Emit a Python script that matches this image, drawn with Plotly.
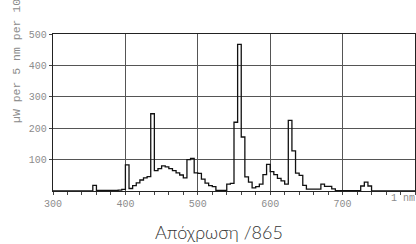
import plotly.graph_objects as go

# 5 nm bins: start wavelength (nm) and relative power
wavelength_nm = list(range(300, 805, 5))
power = [
    0, 0, 0, 0, 0, 0, 0, 0, 0, 0,          # 300-345
    0, 18, 2, 2, 2, 2, 2, 2, 3, 5,        # 350-395
    83, 8, 17, 26, 35, 42, 46, 246, 65, 71,  # 400-445
    80, 77, 71, 65, 58, 51, 42, 100, 104, 58,  # 450-495
    56, 38, 25, 17, 14, 2, 2, 2, 22, 24,  # 500-545
    219, 467, 172, 45, 28, 10, 14, 22, 52, 85,  # 550-595
    62, 52, 40, 32, 22, 225, 128, 57, 50, 18,  # 600-645
    6, 6, 6, 6, 22, 15, 15, 7, 1, 1,      # 650-695
    1, 1, 1, 1, 1, 16, 28, 16, 0, 0,      # 700-745
    0, 0, 0, 0, 0, 0, 0, 0, 0, 0,         # 750-795
    0,                                    # 800
]

x_ticks = [300, 400, 500, 600, 700]
y_ticks = [100, 200, 300, 400, 500]
y_title = "µW per 5 nm per 1000 lm"
unit_label = "1 nm"
chart_title = "Απόχρωση /865"

fig = go.Figure()
fig.add_trace(go.Scatter(
    x=wavelength_nm, y=power, mode="lines", line_shape="hv",
    line=dict(color="#111111", width=1.3), hoverinfo="skip",
))

tick_font = dict(family="Liberation Mono, Courier New, monospace", size=10, color="#8c8c8c")

fig.update_layout(
    width=416, height=244,
    margin=dict(l=53, r=1, t=34, b=53),
    paper_bgcolor="white", plot_bgcolor="white",
    showlegend=False,
    xaxis=dict(
        range=[300, 800], tickvals=x_ticks, ticktext=[str(v) for v in x_ticks],
        showgrid=True, gridcolor="#555555", gridwidth=1,
        showline=True, linecolor="#222222", linewidth=1.2, mirror=True,
        ticks="outside", ticklen=3, tickcolor="#444444",
        minor=dict(dtick=20, ticks="outside", ticklen=3, tickcolor="#444444", showgrid=False),
        tickfont=tick_font, zeroline=False, fixedrange=True,
    ),
    yaxis=dict(
        range=[0, 500], tickvals=y_ticks, ticktext=[str(v) for v in y_ticks],
        showgrid=True, gridcolor="#555555", gridwidth=1,
        showline=True, linecolor="#222222", linewidth=1.4, mirror=True,
        ticks="outside", ticklen=3, tickcolor="#444444",
        ticklabelstandoff=0,
        tickfont=tick_font, zeroline=False, fixedrange=True,
    ),
    annotations=[
        dict(text=y_title, xref="paper", yref="paper", x=-0.101, y=0.42,
             xanchor="center", yanchor="bottom", textangle=-90, showarrow=False,
             font=dict(family="Liberation Mono, Courier New, monospace", size=11.5, color="#8c8c8c")),
        dict(text=unit_label, xref="paper", yref="paper", x=0.968, y=-0.05,
             xanchor="center", yanchor="middle", showarrow=False,
             font=dict(family="Liberation Mono, Courier New, monospace", size=10, color="#8c8c8c")),
        dict(text=chart_title, xref="paper", yref="paper", x=0.459, y=-0.259,
             xanchor="center", yanchor="middle", showarrow=False,
             font=dict(family="Lato, Open Sans, sans-serif", size=18, weight=300, color="#333333")),
    ],
)

fig.write_html(
    "out.html",
    config={"displayModeBar": False},
    post_script="document.body.style.margin='0';document.body.style.padding='0';",
)
